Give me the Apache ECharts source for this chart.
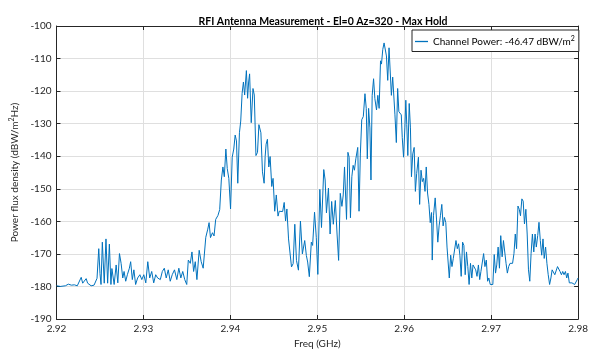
<!DOCTYPE html>
<html>
<head>
<meta charset="utf-8">
<script src="https://cdn.jsdelivr.net/npm/echarts@6/dist/echarts.min.js"></script>
<style>
  html, body { margin: 0; padding: 0; background: #fff; }
  #chart { width: 591px; height: 354px; }
</style>
</head>
<body>
<div id="chart"></div>
<script>
// spectrum trace
var freqGHz = [
  2.92000, 2.92023, 2.92045, 2.92068, 2.92102, 2.92136, 2.92171, 2.92205, 2.92239, 2.92262,
  2.92284, 2.92301, 2.92318, 2.92341, 2.92358, 2.92375, 2.92398, 2.92432, 2.92455, 2.92466,
  2.92486, 2.92500, 2.92512, 2.92527, 2.92549, 2.92569, 2.92588, 2.92608, 2.92626, 2.92637,
  2.92663, 2.92686, 2.92705, 2.92724, 2.92743, 2.92762, 2.92777, 2.92796, 2.92815, 2.92838,
  2.92853, 2.92872, 2.92890, 2.92910, 2.92933, 2.92959, 2.92981, 2.93004, 2.93027, 2.93050,
  2.93072, 2.93095, 2.93118, 2.93141, 2.93163, 2.93194, 2.93217, 2.93240, 2.93262, 2.93285,
  2.93308, 2.93331, 2.93357, 2.93384, 2.93407, 2.93430, 2.93452, 2.93475, 2.93498, 2.93516,
  2.93539, 2.93558, 2.93577, 2.93596, 2.93615, 2.93641, 2.93664, 2.93687, 2.93717, 2.93740,
  2.93755, 2.93771, 2.93794, 2.93812, 2.93831, 2.93857, 2.93877, 2.93896, 2.93914, 2.93930,
  2.93948, 2.93964, 2.93982, 2.94002, 2.94021, 2.94039, 2.94055, 2.94070, 2.94085, 2.94104,
  2.94119, 2.94135, 2.94150, 2.94164, 2.94184, 2.94198, 2.94210, 2.94221, 2.94240, 2.94260,
  2.94275, 2.94294, 2.94312, 2.94328, 2.94351, 2.94369, 2.94388, 2.94400, 2.94411, 2.94426,
  2.94442, 2.94457, 2.94476, 2.94491, 2.94510, 2.94528, 2.94548, 2.94562, 2.94578, 2.94601,
  2.94619, 2.94635, 2.94650, 2.94669, 2.94684, 2.94703, 2.94722, 2.94741, 2.94760, 2.94783,
  2.94806, 2.94828, 2.94855, 2.94874, 2.94889, 2.94908, 2.94931, 2.94946, 2.94968, 2.94988,
  2.95006, 2.95029, 2.95048, 2.95074, 2.95090, 2.95105, 2.95128, 2.95147, 2.95165, 2.95184,
  2.95207, 2.95227, 2.95245, 2.95264, 2.95283, 2.95298, 2.95313, 2.95329, 2.95336, 2.95352,
  2.95366, 2.95381, 2.95397, 2.95412, 2.95427, 2.95443, 2.95465, 2.95480, 2.95495, 2.95511,
  2.95529, 2.95548, 2.95563, 2.95575, 2.95590, 2.95605, 2.95617, 2.95631, 2.95647, 2.95662,
  2.95681, 2.95696, 2.95711, 2.95727, 2.95738, 2.95753, 2.95768, 2.95784, 2.95795, 2.95810,
  2.95825, 2.95841, 2.95852, 2.95867, 2.95882, 2.95893, 2.95909, 2.95924, 2.95938, 2.95954,
  2.95966, 2.95977, 2.95992, 2.96007, 2.96018, 2.96029, 2.96041, 2.96057, 2.96071, 2.96083,
  2.96098, 2.96114, 2.96128, 2.96143, 2.96163, 2.96177, 2.96193, 2.96208, 2.96223, 2.96239,
  2.96253, 2.96268, 2.96284, 2.96299, 2.96314, 2.96322, 2.96336, 2.96356, 2.96371, 2.96386,
  2.96401, 2.96416, 2.96432, 2.96447, 2.96462, 2.96478, 2.96492, 2.96507, 2.96518, 2.96534,
  2.96549, 2.96564, 2.96580, 2.96595, 2.96610, 2.96625, 2.96640, 2.96655, 2.96671, 2.96686,
  2.96701, 2.96716, 2.96731, 2.96746, 2.96762, 2.96777, 2.96791, 2.96807, 2.96822, 2.96837,
  2.96853, 2.96868, 2.96882, 2.96898, 2.96913, 2.96928, 2.96944, 2.96959, 2.96973, 2.96989,
  2.97004, 2.97019, 2.97035, 2.97050, 2.97064, 2.97080, 2.97095, 2.97110, 2.97126, 2.97141,
  2.97156, 2.97171, 2.97186, 2.97201, 2.97217, 2.97232, 2.97246, 2.97262, 2.97277, 2.97292,
  2.97308, 2.97323, 2.97337, 2.97353, 2.97368, 2.97383, 2.97399, 2.97414, 2.97429, 2.97444,
  2.97459, 2.97474, 2.97490, 2.97505, 2.97519, 2.97535, 2.97550, 2.97565, 2.97581, 2.97596,
  2.97610, 2.97626, 2.97641, 2.97656, 2.97672, 2.97687, 2.97701, 2.97717, 2.97732, 2.97747,
  2.97763, 2.97778, 2.97792, 2.97808, 2.97823, 2.97838, 2.97854, 2.97869, 2.97883, 2.97899,
  2.97914, 2.97929, 2.97945, 2.97960, 2.97974, 2.97990, 2.98000
];
var powerDbw = [
  -179.8, -179.5, -180.0, -179.6, -179.8, -179.3, -179.6, -179.5, -179.8, -179.3,
  -177.2, -179.0, -179.6, -177.6, -179.0, -178.5, -179.8, -179.6, -179.2, -177.5,
  -168.4, -176.0, -179.4, -166.4, -179.0, -165.4, -179.0, -167.0, -179.4, -174.5,
  -179.4, -173.4, -178.9, -169.9, -172.9, -177.4, -175.4, -178.4, -176.4, -174.4,
  -172.4, -177.9, -174.9, -179.4, -177.4, -176.4, -177.9, -176.4, -178.9, -172.4,
  -177.4, -175.4, -178.9, -176.4, -177.4, -177.9, -175.4, -174.4, -177.4, -174.9,
  -178.4, -176.4, -174.9, -177.9, -174.4, -177.4, -175.4, -177.9, -179.4, -171.9,
  -172.9, -169.4, -175.4, -172.4, -177.9, -168.9, -172.4, -174.4, -164.9, -162.4,
  -160.4, -165.0, -163.5, -164.5, -159.4, -158.2, -156.4, -147.3, -143.3, -146.3,
  -137.8, -143.8, -146.8, -156.2, -140.3, -137.8, -133.5, -135.3, -148.3, -132.8,
  -129.2, -120.7, -117.2, -121.2, -113.7, -122.2, -117.2, -114.7, -129.7, -119.2,
  -121.2, -139.8, -138.8, -130.3, -132.8, -144.8, -148.3, -140.0, -136.3, -134.8,
  -143.3, -140.1, -149.3, -146.8, -156.9, -151.9, -158.4, -156.9, -157.4, -157.0,
  -154.2, -159.9, -156.2, -165.4, -165.9, -174.0, -173.0, -160.9, -172.0, -175.0,
  -159.9, -170.0, -165.9, -170.5, -172.5, -177.0, -166.4, -167.4, -157.2, -164.9,
  -176.3, -150.2, -161.9, -144.1, -147.3, -157.4, -149.8, -163.9, -153.9, -160.9,
  -153.6, -163.9, -172.0, -151.4, -155.4, -151.9, -143.3, -142.8, -159.4, -138.8,
  -140.3, -158.9, -146.3, -142.8, -144.3, -140.8, -137.3, -156.9, -139.3, -128.8,
  -127.8, -120.8, -125.3, -140.8, -125.3, -131.3, -147.3, -121.3, -116.2, -122.3,
  -125.8, -121.3, -125.3, -110.7, -111.7, -107.2, -105.2, -104.7, -109.2, -116.7,
  -106.7, -106.7, -121.3, -115.7, -115.2, -127.3, -135.8, -119.2, -126.3, -125.8,
  -127.3, -134.3, -140.3, -131.3, -122.8, -130.3, -139.8, -123.8, -131.3, -146.3,
  -139.3, -137.3, -150.8, -145.3, -140.3, -154.8, -144.3, -147.8, -146.8, -150.8,
  -143.3, -151.3, -154.8, -160.4, -157.3, -171.9, -158.3, -152.8, -159.3, -166.4,
  -161.4, -158.3, -154.8, -161.4, -158.8, -160.4, -167.9, -167.9, -177.4, -170.4,
  -173.9, -171.4, -171.9, -165.9, -168.4, -166.9, -170.4, -176.9, -166.4, -167.4,
  -176.4, -169.4, -173.9, -179.4, -172.9, -177.4, -173.4, -172.9, -174.9, -176.9,
  -173.4, -177.9, -175.4, -175.9, -169.9, -173.9, -171.9, -178.4, -177.4, -179.4,
  -178.9, -179.4, -170.2, -175.9, -173.4, -167.9, -174.4, -164.4, -170.9, -165.9,
  -166.4, -172.9, -175.9, -173.9, -172.9, -172.9, -172.9, -169.9, -163.9, -168.4,
  -155.3, -156.3, -158.3, -153.1, -153.8, -160.8, -156.3, -163.9, -174.9, -178.4,
  -169.9, -163.9, -169.4, -163.9, -167.9, -164.4, -160.3, -165.9, -170.4, -165.4,
  -171.4, -167.9, -172.9, -176.4, -179.4, -177.4, -174.9, -175.4, -176.4, -175.9,
  -173.9, -173.9, -175.4, -176.4, -175.4, -176.4, -175.4, -177.4, -175.9, -178.9,
  -179.4, -178.9, -179.4, -179.4, -178.9, -177.9, -177.4
];
var xTicks = [2.92, 2.98, 0.01];   // min, max, step
var yTicks = [-190, -100, 10];
var legendName = 'Channel Power: -46.47 dBW/m2';

var dom = document.getElementById('chart');
var myChart = echarts.init(dom, null, { renderer: 'canvas' });

var points = [];
for (var i = 0; i < freqGHz.length; i++) {
  points.push([freqGHz[i], powerDbw[i]]);
}

var axisColor = '#262626';
var font = 'Lato, "Open Sans", sans-serif';

function boxAxis(pos, ticks) {
  return {
    type: 'value',
    position: pos,
    min: ticks[0],
    max: ticks[1],
    interval: ticks[2],
    axisLine: { show: true, onZero: false, lineStyle: { color: axisColor, width: 1 } },
    axisTick: { show: true, inside: true, length: 4, lineStyle: { color: axisColor } },
    axisLabel: { show: false },
    splitLine: { show: false }
  };
}

var option = {
  animation: false,
  backgroundColor: '#fff',
  textStyle: { fontFamily: font },
  title: {
    text: 'RFI Antenna Measurement - El=0 Az=320 - Max Hold',
    left: 318,
    top: 11,
    textAlign: 'center',
    textStyle: { fontSize: 10.5, fontWeight: 'bold', color: '#000', fontFamily: font }
  },
  legend: {
    data: [{ name: legendName, icon: 'rect' }],
    left: 412,
    top: 30,
    itemWidth: 13,
    itemHeight: 1.3,
    itemGap: 3,
    padding: [5, 4, 5, 3],
    backgroundColor: '#fff',
    borderColor: axisColor,
    borderWidth: 1,
    borderRadius: 0,
    formatter: function () { return 'Channel Power: -46.47 dBW/m{sup|2}'; },
    textStyle: { fontSize: 10, color: '#000', fontFamily: font, rich: {
      sup: { fontSize: 7, padding: [0, 0, 6, 0], color: '#000', fontFamily: font }
    } }
  },
  grid: { left: 54, right: 9, top: 26, bottom: 30, containLabel: false },
  xAxis: [
    {
      type: 'value',
      min: xTicks[0],
      max: xTicks[1],
      interval: xTicks[2],
      name: 'Freq (GHz)',
      nameLocation: 'middle',
      nameGap: 20,
      nameTextStyle: { fontSize: 10, color: axisColor, fontFamily: font },
      axisLine: { show: true, onZero: false, lineStyle: { color: axisColor, width: 1 } },
      axisTick: { show: true, inside: true, length: 4, lineStyle: { color: axisColor } },
      axisLabel: {
        fontSize: 10, color: axisColor, margin: 5,
        formatter: function (v) { return v.toFixed(2); }
      },
      splitLine: { show: true, lineStyle: { color: '#dfdfdf', width: 1 } }
    },
    boxAxis('top', xTicks)
  ],
  yAxis: [
    {
      type: 'value',
      min: yTicks[0],
      max: yTicks[1],
      interval: yTicks[2],
      name: 'Power flux density (dBW/m{sup|2}Hz)',
      nameLocation: 'middle',
      nameGap: 28,
      nameRotate: 90,
      nameTextStyle: { fontSize: 10, color: axisColor, fontFamily: font, rich: {
        sup: { fontSize: 7, padding: [0, 0, 6, 0], color: axisColor, fontFamily: font }
      } },
      axisLine: { show: true, onZero: false, lineStyle: { color: axisColor, width: 1 } },
      axisTick: { show: true, inside: true, length: 4, lineStyle: { color: axisColor } },
      axisLabel: { fontSize: 10, color: axisColor, margin: 5 },
      splitLine: { show: true, lineStyle: { color: '#dfdfdf', width: 1 } }
    },
    boxAxis('right', yTicks)
  ],
  series: [
    {
      name: legendName,
      type: 'line',
      data: points,
      symbol: 'none',
      lineStyle: { color: '#0072BD', width: 1 },
      itemStyle: { color: '#0072BD' }
    }
  ]
};

myChart.setOption(option);
window.addEventListener('resize', myChart.resize);
</script>
</body>
</html>
